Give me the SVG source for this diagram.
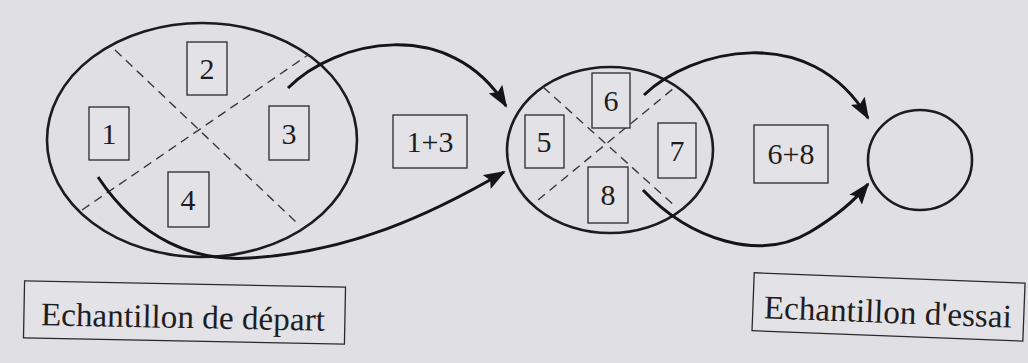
<svg xmlns="http://www.w3.org/2000/svg" width="1028" height="363" viewBox="0 0 1028 363">
<style>
.bg{fill:#e0dfe4}
.ell{fill:none;stroke:#1c1b1f;stroke-width:2.6}
.dash{fill:none;stroke:#3a393e;stroke-width:1.4;stroke-dasharray:9 6}
.box{fill:#e3e2e7;stroke:#2a292e;stroke-width:1.3}
.num{font-family:"Liberation Serif","Times New Roman",serif;font-size:30px;fill:#1e1d22;text-anchor:middle}
.lbl{font-family:"Liberation Serif","Times New Roman",serif;fill:#1e1d22}
.arr{fill:none;stroke:#151418;stroke-width:3;marker-end:url(#ah)}
</style>
<defs>
<marker id="ah" viewBox="0 0 22 16" refX="20" refY="8" markerWidth="22" markerHeight="16" markerUnits="userSpaceOnUse" orient="auto">
<path d="M0,0 L22,8 L0,16 L4,8 Z" fill="#151418"/>
</marker>
</defs>
<rect class="bg" x="0" y="0" width="1028" height="363"/>

<g id="sample-start">
<ellipse class="ell" cx="202" cy="140" rx="155" ry="117"/>
<line class="dash" x1="115" y1="50" x2="297" y2="223"/>
<line class="dash" x1="82" y1="210" x2="308" y2="55"/>
</g>
<g id="q1"><rect class="box" x="89" y="107" width="40" height="53"/><text class="num" x="109" y="144">1</text></g>
<g id="q2"><rect class="box" x="187" y="42" width="40" height="53"/><text class="num" x="207" y="79">2</text></g>
<g id="q3"><rect class="box" x="269" y="106" width="40" height="54"/><text class="num" x="289" y="144">3</text></g>
<g id="q4"><rect class="box" x="168" y="172" width="41" height="55"/><text class="num" x="188" y="210">4</text></g>
<g id="sum13"><rect class="box" x="393" y="115" width="74" height="53"/><text class="num" x="430" y="152">1+3</text></g>

<g id="sample-mid">
<ellipse class="ell" cx="610" cy="150" rx="103" ry="83"/>
<line class="dash" x1="543" y1="87" x2="676" y2="207"/>
<line class="dash" x1="538" y1="200" x2="674" y2="88"/>
</g>
<g id="q5"><rect class="box" x="525" y="115" width="39" height="53"/><text class="num" x="544" y="152">5</text></g>
<g id="q6"><rect class="box" x="592" y="73" width="38" height="55"/><text class="num" x="611" y="111">6</text></g>
<g id="q7"><rect class="box" x="658" y="123" width="38" height="55"/><text class="num" x="677" y="161">7</text></g>
<g id="q8"><rect class="box" x="588" y="167" width="40" height="56"/><text class="num" x="608" y="205">8</text></g>
<g id="sum68"><rect class="box" x="754" y="125" width="74" height="58"/><text class="num" x="791" y="164">6+8</text></g>

<g id="sample-test">
<ellipse class="ell" cx="920" cy="160" rx="52" ry="50"/>
</g>

<g id="connectors">
<path class="arr" d="M288,88 C335,40 450,15 506,106"/>
<path class="arr" d="M98,177 C140,240 195,262 250,258 C350,252 430,215 504,172"/>
<path class="arr" d="M644,95 C690,50 810,20 868,118"/>
<path class="arr" d="M643,190 C690,240 760,262 810,232 C835,217 853,203 868,184"/>
</g>

<g id="label-start" transform="rotate(1.1 184 313)">
<rect class="box" x="24" y="284" width="321" height="57"/>
<text class="lbl" x="41" y="328" font-size="33" textLength="284" lengthAdjust="spacingAndGlyphs">Echantillon de départ</text>
</g>
<g id="label-test" transform="rotate(2.2 890 308)">
<rect class="box" x="753" y="278" width="271" height="58"/>
<text class="lbl" x="764" y="323" font-size="33" textLength="248" lengthAdjust="spacingAndGlyphs">Echantillon d'essai</text>
</g>
</svg>
